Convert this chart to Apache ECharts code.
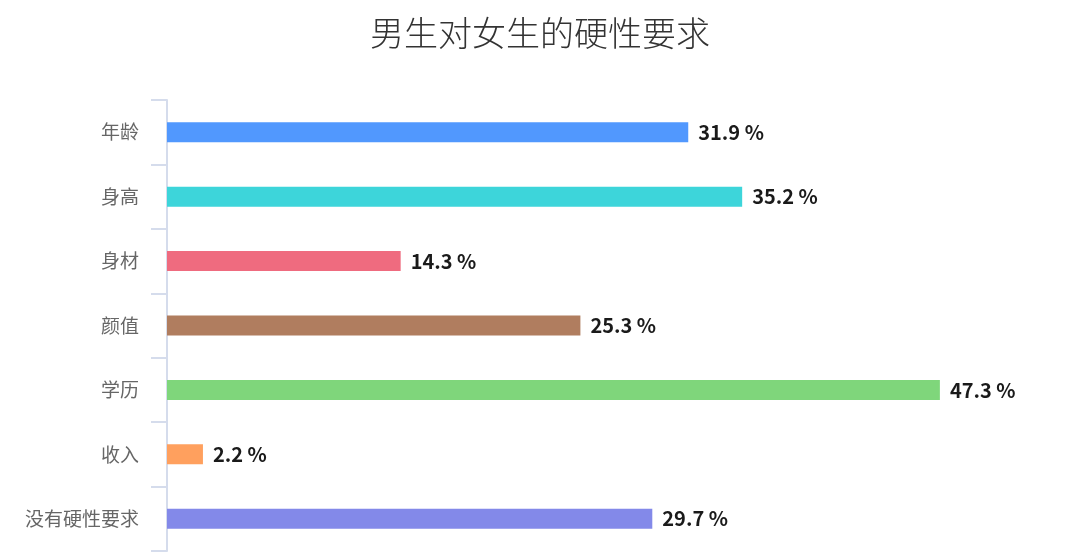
<!DOCTYPE html>
<html>
<head>
<meta charset="utf-8">
<script src="https://cdn.jsdelivr.net/npm/echarts@6/dist/echarts.min.js"></script>
<style>
  html, body { margin: 0; padding: 0; background: #fff; }
  #chart { width: 1080px; height: 554px; }
</style>
</head>
<body>
<div id="chart"></div>
<script>
// categories top to bottom
const categories = ['年龄', '身高', '身材', '颜值', '学历', '收入', '没有硬性要求']
const values = [31.9, 35.2, 14.3, 25.3, 47.3, 2.2, 29.7]
const barColors = ['#5198fe', '#3dd5da', '#ef6b7f', '#b07d5f', '#7fd67b', '#ffa05e', '#8389e9']

const myChart = echarts.init(document.getElementById('chart'))

myChart.setOption({
  animation: false,
  title: {
    text: '男生对女生的硬性要求',
    left: 'center',
    top: 11,
    textStyle: {
      fontFamily: 'Noto Sans CJK SC',
      fontSize: 34,
      fontWeight: 300,
      color: '#333'
    }
  },
  grid: { left: 167, right: 96, top: 100, bottom: 3 },
  xAxis: {
    type: 'value',
    min: 0,
    max: 50,
    show: false
  },
  yAxis: {
    type: 'category',
    inverse: true,
    data: categories,
    axisLine: { show: true, lineStyle: { color: '#d5dcec', width: 2 } },
    axisTick: { show: true, length: 16, lineStyle: { color: '#d5dcec', width: 2 } },
    axisLabel: {
      margin: 28,
      fontFamily: 'Noto Sans CJK SC',
      fontSize: 19,
      color: '#666'
    }
  },
  series: [{
    type: 'bar',
    barWidth: 20,
    data: values.map((v, i) => ({ value: v, itemStyle: { color: barColors[i] } })),
    label: {
      show: true,
      position: 'right',
      distance: 10,
      formatter: (p) => p.value + ' %',
      fontFamily: 'Noto Sans CJK SC',
      fontWeight: 'bold',
      fontSize: 20,
      color: '#1a1a1a'
    }
  }]
})
</script>
</body>
</html>
